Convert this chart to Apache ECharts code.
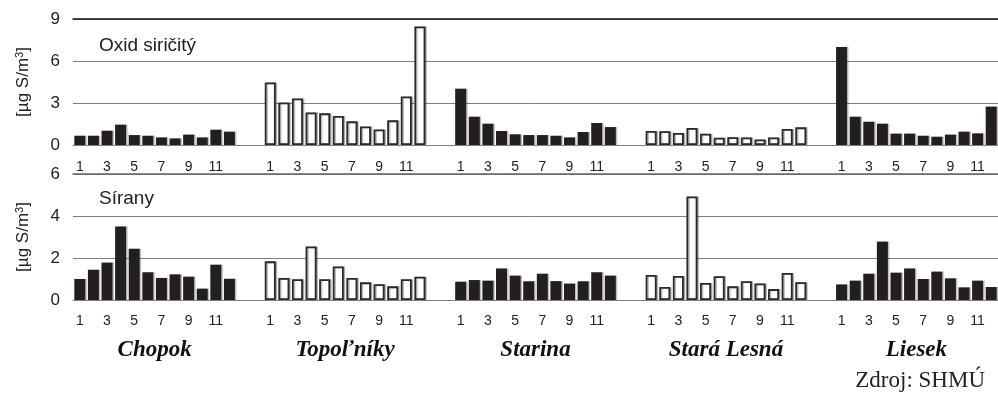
<!DOCTYPE html>
<html>
<head>
<meta charset="utf-8">
<script src="https://cdn.jsdelivr.net/npm/echarts@6/dist/echarts.min.js"></script>
<style>
  html, body { margin: 0; padding: 0; background: #fff; }
  #main { width: 998px; height: 396px; }
</style>
</head>
<body>
<div id="main"></div>
<script>
// mesiace a stanice
var months = ['1', '2', '3', '4', '5', '6', '7', '8', '9', '10', '11', '12'];
var stations = ['Chopok', 'Topoľníky', 'Starina', 'Stará Lesná', 'Liesek'];
var hollowStations = ['Topoľníky', 'Stará Lesná'];

// oxid siričitý [µg S/m3]
var so2Chopok = [0.66, 0.66, 1.02, 1.45, 0.71, 0.66, 0.54, 0.47, 0.74, 0.54, 1.09, 0.95];
var so2Topolniky = [4.47, 3.04, 3.33, 2.33, 2.26, 2.07, 1.69, 1.33, 1.11, 1.76, 3.47, 8.47];
var so2Starina = [4.02, 2.02, 1.52, 1.0, 0.76, 0.71, 0.71, 0.66, 0.54, 0.93, 1.57, 1.28];
var so2StaraLesna = [1.0, 0.98, 0.86, 1.21, 0.81, 0.52, 0.55, 0.54, 0.4, 0.54, 1.14, 1.26];
var so2Liesek = [7.0, 2.02, 1.66, 1.52, 0.81, 0.81, 0.66, 0.59, 0.74, 0.95, 0.83, 2.74];

// sírany [µg S/m3]
var so4Chopok = [1.0, 1.44, 1.78, 3.5, 2.44, 1.32, 1.05, 1.22, 1.11, 0.54, 1.68, 1.01];
var so4Topolniky = [1.84, 1.05, 0.99, 2.55, 0.99, 1.6, 1.05, 0.84, 0.75, 0.65, 0.99, 1.11];
var so4Starina = [0.87, 0.95, 0.92, 1.5, 1.16, 0.89, 1.25, 0.9, 0.78, 0.89, 1.32, 1.16];
var so4StaraLesna = [1.19, 0.62, 1.14, 4.93, 0.81, 1.13, 0.65, 0.89, 0.79, 0.52, 1.29, 0.85];
var so4Liesek = [0.74, 0.92, 1.25, 2.78, 1.3, 1.5, 1.0, 1.35, 1.03, 0.6, 0.92, 0.62];

var so2 = [so2Chopok, so2Topolniky, so2Starina, so2StaraLesna, so2Liesek];
var so4 = [so4Chopok, so4Topolniky, so4Starina, so4StaraLesna, so4Liesek];

var GAP = 2; // prazdne miesta medzi stanicami
var categories = [];
var groupCenters = [];
stations.forEach(function (s, i) {
    groupCenters.push(categories.length + months.length / 2);
    months.forEach(function (m) { categories.push(m); });
    if (i < stations.length - 1) {
        for (var g = 0; g < GAP; g++) categories.push('');
    }
});
var slots = categories.length;

function expand(values, stationIdx) {
    var start = stationIdx * (months.length + GAP);
    var arr = [];
    for (var k = 0; k < slots; k++) {
        var j = k - start;
        arr.push(j >= 0 && j < values.length ? values[j] : '-');
    }
    return arr;
}

function buildSeries(panel, gridIdx) {
    return stations.map(function (s, i) {
        var hollow = hollowStations.indexOf(s) >= 0;
        return {
            name: s,
            type: 'bar',
            xAxisIndex: gridIdx === 0 ? 0 : 2,
            yAxisIndex: gridIdx,
            barWidth: 11,
            barGap: '-100%',
            silent: true,
            itemStyle: {
                color: hollow ? '#ffffff' : '#231f20',
                borderColor: hollow ? '#2a2a2a' : '#231f20',
                borderWidth: hollow ? 1.8 : 0,
                shadowColor: 'rgba(0,0,0,0.25)',
                shadowOffsetX: 1.5,
                shadowBlur: 0
            },
            data: expand(panel[i], i)
        };
    });
}

var monthLabel = {
    interval: 0,
    margin: 15,
    color: '#222',
    fontFamily: 'Liberation Sans, Arial',
    fontSize: 14,
    formatter: function (v) {
        return (v !== '' && parseInt(v, 10) % 2 === 1) ? v : '';
    }
};

function yAxisCfg(gridIdx, max, interval) {
    return {
        type: 'value',
        gridIndex: gridIdx,
        min: 0,
        max: max,
        interval: interval,
        name: '[µg S/m{sup|3}]',
        nameLocation: 'middle',
        nameGap: 40,
        nameTextStyle: {
            fontFamily: 'Liberation Sans, Arial',
            fontSize: 17,
            color: '#222',
            rich: { sup: { fontSize: 11, verticalAlign: 'top', padding: [0, 0, 8, 0], color: '#222' } }
        },
        axisLine: { show: false },
        axisTick: { show: false },
        axisLabel: { margin: 13, fontSize: 17, color: '#222', fontFamily: 'Liberation Sans, Arial' },
        splitLine: { lineStyle: { color: '#7f7f7f', width: 1 } }
    };
}

var chart = echarts.init(document.getElementById('main'), null, { renderer: 'canvas' });
var option = {
    animation: false,
    backgroundColor: '#fff',
    title: [
        { text: 'Oxid siričitý', left: 94, top: 31, textStyle: { fontFamily: 'Liberation Sans, Arial', fontSize: 19, fontWeight: 'normal', color: '#222' } },
        { text: 'Sírany', left: 94, top: 184, textStyle: { fontFamily: 'Liberation Sans, Arial', fontSize: 19, fontWeight: 'normal', color: '#222' } },
        { text: 'Zdroj: SHMÚ', right: 8, top: 364, textStyle: { fontFamily: 'Liberation Serif, Times New Roman', fontSize: 23, fontWeight: 'normal', color: '#222' } }
    ],
    grid: [
        { left: 73, right: 0, top: 19, height: 126 },
        { left: 73, right: 0, top: 174, height: 126 }
    ],
    xAxis: [
        {
            type: 'category', gridIndex: 0, data: categories, position: 'bottom',
            axisLine: { lineStyle: { color: '#7f7f7f', width: 1 } },
            axisTick: { show: false }, axisLabel: monthLabel
        },
        {
            type: 'category', gridIndex: 0, data: categories, position: 'top',
            axisLine: { lineStyle: { color: '#111', width: 1.5 } },
            axisTick: { show: false }, axisLabel: { show: false }
        },
        {
            type: 'category', gridIndex: 1, data: categories, position: 'bottom',
            axisLine: { lineStyle: { color: '#7f7f7f', width: 1 } },
            axisTick: { show: false }, axisLabel: Object.assign({}, monthLabel, { margin: 14 })
        },
        {
            type: 'category', gridIndex: 1, data: categories, position: 'top',
            axisLine: { lineStyle: { color: '#666', width: 1.5 } },
            axisTick: { show: false }, axisLabel: { show: false }
        },
        {
            // nazvy stanic pod skupinami
            type: 'value', gridIndex: 1, position: 'bottom', min: 0, max: slots,
            axisLine: { show: false }, axisTick: { show: false }, splitLine: { show: false },
            axisLabel: {
                customValues: groupCenters,
                margin: 39,
                fontFamily: 'Liberation Serif, Times New Roman',
                fontStyle: 'italic',
                fontWeight: 'bold',
                fontSize: 23,
                color: '#111',
                formatter: function (v) {
                    var idx = groupCenters.indexOf(v);
                    return idx >= 0 ? stations[idx] : '';
                }
            }
        }
    ],
    yAxis: [yAxisCfg(0, 9, 3), yAxisCfg(1, 6, 2)],
    series: buildSeries(so2, 0).concat(buildSeries(so4, 1))
};
chart.setOption(option);
</script>
</body>
</html>
